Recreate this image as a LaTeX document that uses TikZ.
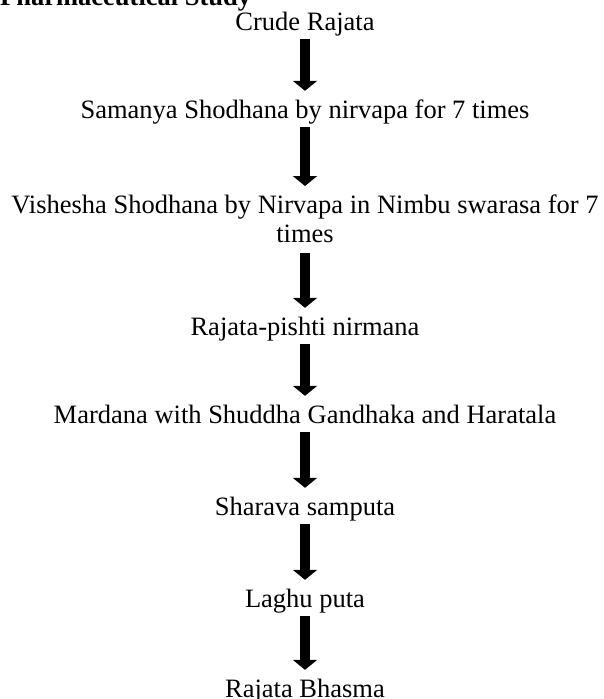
\documentclass[tikz,border=0pt]{standalone}
\usepackage{fontspec}
\setmainfont{Liberation Serif}
\usetikzlibrary{arrows.meta}
\tikzset{
  flow title/.style={inner sep=0pt,anchor=base west,font=\fontsize{26.5}{29}\selectfont\bfseries},
  flow text/.style={inner sep=0pt,align=center},
  flow line/.style={flow text,anchor=base,text height=18pt,text depth=6pt},
  flow arrow/.style={line width=10pt,-{Triangle[width=24pt,length=10pt]},shorten <=3pt,shorten >=9pt}
}
\begin{document}
\begin{tikzpicture}[x=1pt,y=-1pt,font=\fontsize{26.5}{29}\selectfont]
  \useasboundingbox (0,0) rectangle (603,699);
  \node[flow title] (title) at (0,5) {Pharmaceutical Study};
  \node[flow line] (crude) at (305,30) {Crude Rajata};
  \node[flow line] (samanya) at (305,118) {Samanya Shodhana by nirvapa for 7 times};
  \node[flow text,anchor=north] (vishesha) at (305,195) {Vishesha Shodhana by Nirvapa in Nimbu swarasa for 7\\times};
  \node[flow line] (pishti) at (305,335) {Rajata-pishti nirmana};
  \node[flow line] (mardana) at (305,423) {Mardana with Shuddha Gandhaka and Haratala};
  \node[flow line] (sharava) at (305,515) {Sharava samputa};
  \node[flow line] (laghu) at (305,607) {Laghu puta};
  \node[flow line] (bhasma) at (305,697) {Rajata Bhasma};
  % arrows between the steps
  \draw[flow arrow] (crude) -- (samanya);
  \draw[flow arrow] (samanya) -- (vishesha);
  \draw[flow arrow,shorten <=10pt] (vishesha) -- (pishti);
  \draw[flow arrow] (pishti) -- (mardana);
  \draw[flow arrow] (mardana) -- (sharava);
  \draw[flow arrow] (sharava) -- (laghu);
  \draw[flow arrow] (laghu) -- (bhasma);
\end{tikzpicture}
\end{document}
